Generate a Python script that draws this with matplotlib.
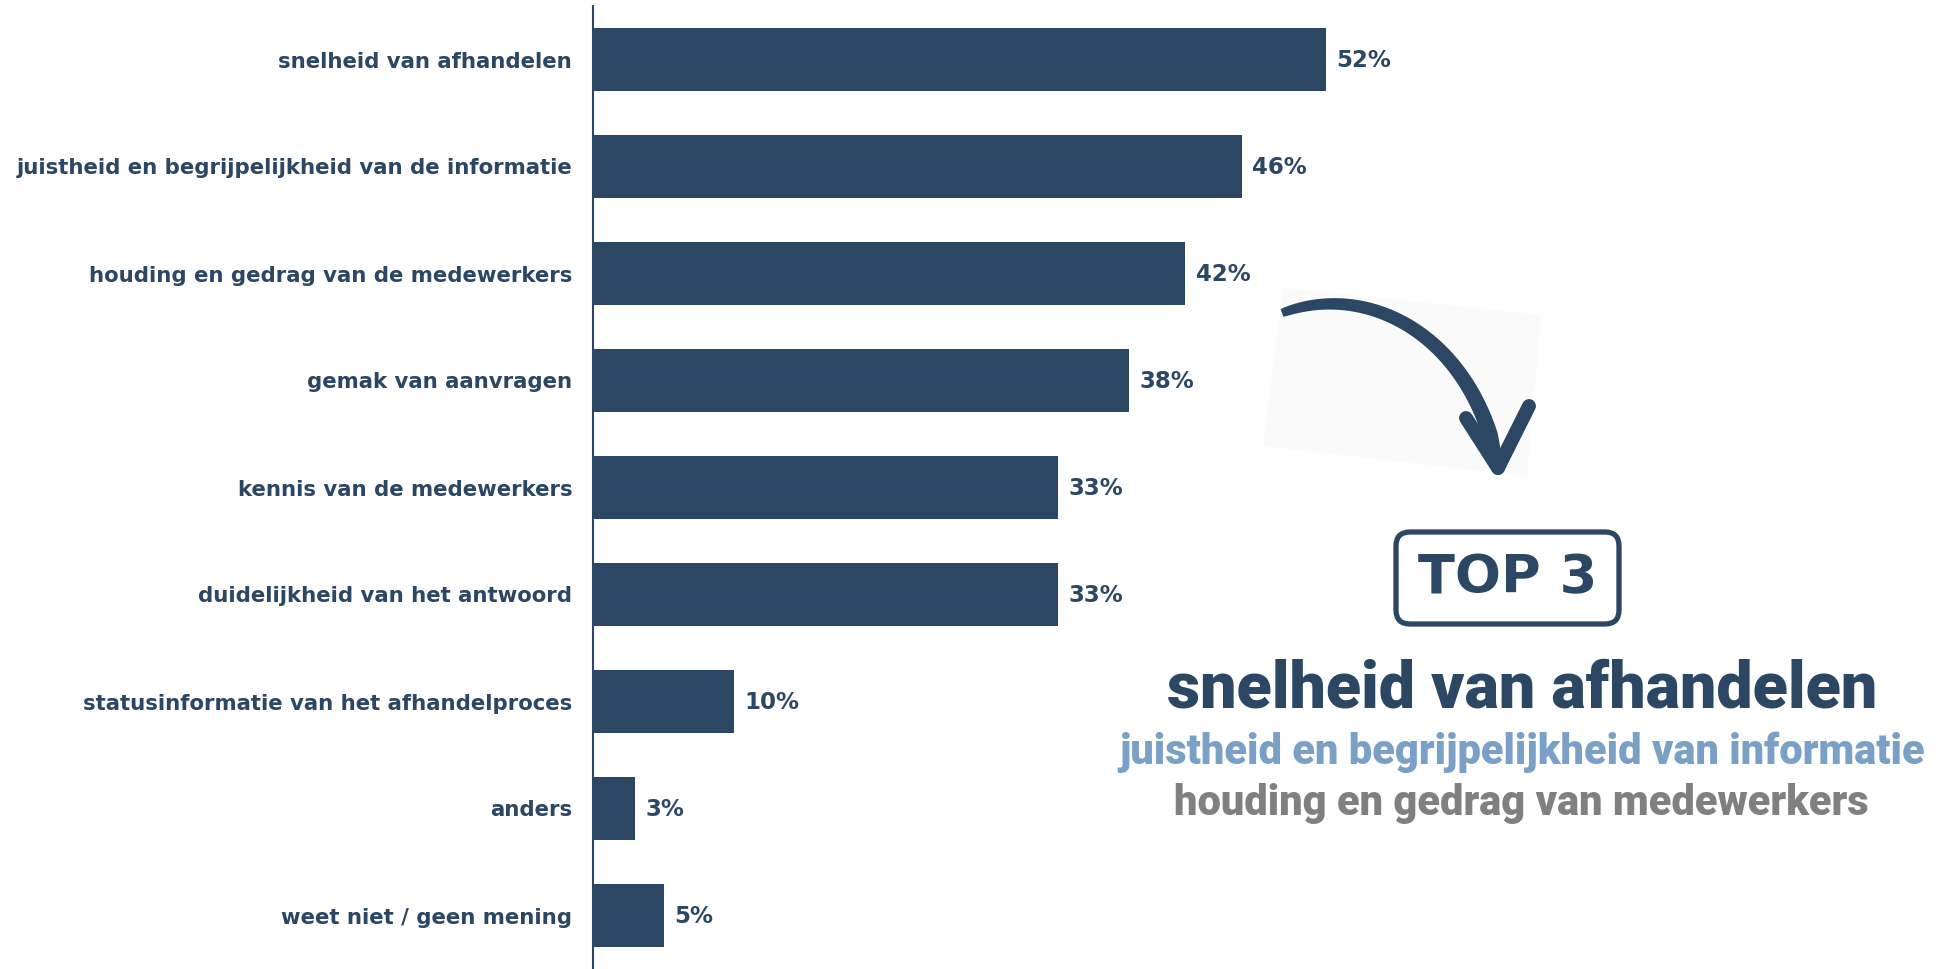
import numpy as np
import matplotlib.pyplot as plt
from matplotlib.patches import FancyBboxPatch, Polygon

categories = [
    'snelheid van afhandelen',
    'juistheid en begrijpelijkheid van de informatie',
    'houding en gedrag van de medewerkers',
    'gemak van aanvragen',
    'kennis van de medewerkers',
    'duidelijkheid van het antwoord',
    'statusinformatie van het afhandelproces',
    'anders',
    'weet niet / geen mening',
]
values = [52, 46, 42, 38, 33, 33, 10, 3, 5]

top3_title = 'TOP 3'
top3_lines = [
    'snelheid van afhandelen',
    'juistheid en begrijpelijkheid van informatie',
    'houding en gedrag van medewerkers',
]

navy = '#2c4763'
light_blue = '#7aa0c8'
grey = '#808080'

W, H = 1943, 969
fig = plt.figure(figsize=(W / 100, H / 100), dpi=100)

# bar chart
ax = fig.add_axes([593 / W, 0, 846 / W, 963 / H])
ypos = np.arange(len(categories))
ax.barh(ypos, values, height=0.59, color=navy)
ax.set_ylim(len(categories) - 0.5, -0.5)
ax.set_xlim(0, 60)
ax.set_yticks(ypos)
ax.set_yticklabels(categories, fontsize=15.3, fontweight='bold', color=navy)
ax.set_xticks([])
ax.tick_params(axis='y', length=0, pad=15)
for side in ['top', 'right', 'bottom']:
    ax.spines[side].set_visible(False)
ax.spines['left'].set_color(navy)
ax.spines['left'].set_linewidth(1.5)
ax.patch.set_alpha(0)

for y, v in zip(ypos, values):
    ax.annotate(f'{v}%', (v, y), xytext=(7.5, -1), textcoords='offset points',
                va='center', ha='left', fontsize=16.5, fontweight='bold', color=navy)

# overlay in pixel coordinates for the arrow and the top-3 block
ov = fig.add_axes([0, 0, 1, 1])
ov.set_xlim(0, W)
ov.set_ylim(H, 0)
ov.axis('off')
ov.patch.set_alpha(0)

ov.add_patch(Polygon([(1283, 288), (1541, 315), (1527, 476), (1263, 446)],
                     closed=True, facecolor='#fbfbfb', edgecolor='none'))

# brush-stroke arrow: cubic curve with a widening stroke
p0 = np.array([1282, 313])
p1 = np.array([1370, 280])
p2 = np.array([1472, 338])
p3 = np.array([1497, 462])
t = np.linspace(0, 1, 120)[:, None]
curve = (1 - t) ** 3 * p0 + 3 * (1 - t) ** 2 * t * p1 + 3 * (1 - t) * t ** 2 * p2 + t ** 3 * p3
d = np.gradient(curve, axis=0)
n = np.column_stack([-d[:, 1], d[:, 0]])
n /= np.linalg.norm(n, axis=1)[:, None]
half = 4 + 4 * np.sqrt(t[:, 0])
half[-10:] = np.linspace(half[-11], 5, 10)
outline = np.vstack([curve + n * half[:, None], (curve - n * half[:, None])[::-1]])
ov.add_patch(Polygon(outline, closed=True, facecolor=navy, edgecolor='none'))
ov.plot([1466, 1498], [418, 468], color=navy, lw=10, solid_capstyle='round')
ov.plot([1529, 1498], [406, 468], color=navy, lw=10, solid_capstyle='round')

# top-3 box
ov.add_patch(FancyBboxPatch((1396, 532), 223, 92,
                            boxstyle='round,pad=0,rounding_size=14',
                            facecolor='white', edgecolor=navy, lw=3.8))
ov.text(1508, 578, top3_title, ha='center', va='center', fontsize=39,
        fontweight='bold', color=navy)

ov.text(1522, 690, top3_lines[0], ha='center', va='center', fontsize=46.5,
        family='Roboto', fontweight='black', color=navy)
ov.text(1522, 752, top3_lines[1], ha='center', va='center', fontsize=30,
        family='Roboto', fontweight='black', color=light_blue)
ov.text(1521, 803, top3_lines[2], ha='center', va='center', fontsize=30,
        family='Roboto', fontweight='black', color=grey)

fig.savefig('out.png', dpi=100)
